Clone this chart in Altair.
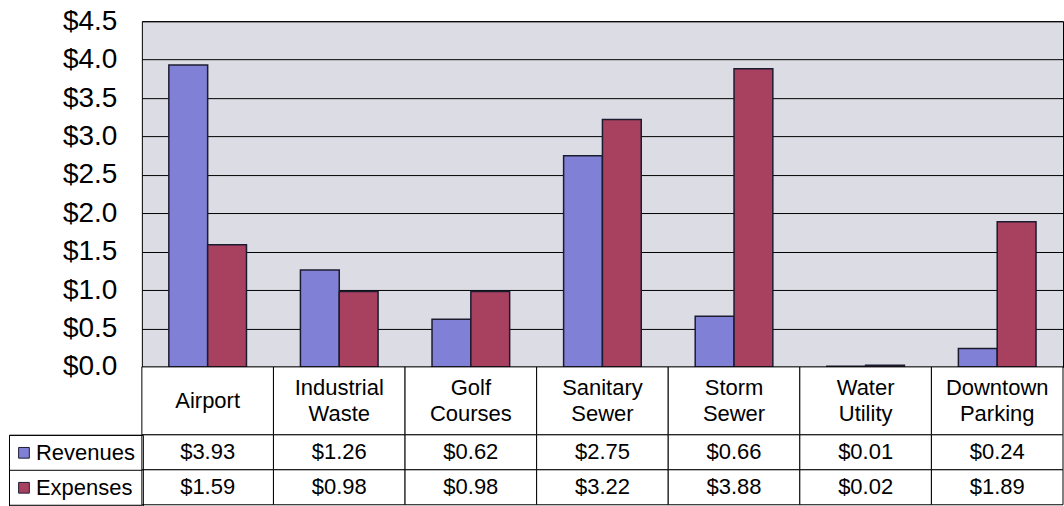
import altair as alt
import pandas as pd

categories = ["Airport", "Industrial Waste", "Golf Courses", "Sanitary Sewer",
              "Storm Sewer", "Water Utility", "Downtown Parking"]
category_lines = [["Airport"], ["Industrial", "Waste"], ["Golf", "Courses"],
                  ["Sanitary", "Sewer"], ["Storm", "Sewer"], ["Water", "Utility"],
                  ["Downtown", "Parking"]]
series = ["Revenues", "Expenses"]
revenues = [3.93, 1.26, 0.62, 2.75, 0.66, 0.01, 0.24]
expenses = [1.59, 0.98, 0.98, 3.22, 3.88, 0.02, 1.89]
y_ticks = [0.0, 0.5, 1.0, 1.5, 2.0, 2.5, 3.0, 3.5, 4.0, 4.5]
colors = ["#8080d6", "#a8405f"]

FONT = "Liberation Sans"
W = 922

rows = []
for i, c in enumerate(categories):
    rows.append({"category": c, "series": "Revenues", "value": revenues[i]})
    rows.append({"category": c, "series": "Expenses", "value": expenses[i]})
df = pd.DataFrame(rows)
cat_df = pd.DataFrame({"category": categories,
                       "label": ["\n".join(l) for l in category_lines],
                       "nlines": [len(l) for l in category_lines]})

x_table = alt.X("category:N", sort=categories,
                scale=alt.Scale(paddingInner=0, paddingOuter=0), axis=None)

bars = alt.Chart(df).mark_bar(stroke="#1c1c30", strokeWidth=1.5).encode(
    x=alt.X("category:N", sort=categories,
            scale=alt.Scale(paddingInner=0.41, paddingOuter=0.205), axis=None),
    xOffset=alt.XOffset("series:N", sort=series,
                        scale=alt.Scale(domain=series, paddingInner=0, paddingOuter=0)),
    y=alt.Y("value:Q", scale=alt.Scale(domain=[0, 4.5], nice=False),
            axis=alt.Axis(values=y_ticks, format="$.1f", labelFontSize=28,
                          labelPadding=25, ticks=False, domain=False, grid=True,
                          gridColor="#000000", gridWidth=1, title=None,
                          labelColor="#000000", labelFont=FONT)),
    color=alt.Color("series:N", scale=alt.Scale(domain=series, range=colors), legend=None),
).properties(width=W, height=346,
             view=alt.ViewBackground(fill="#dcdce4", stroke="#000000", strokeWidth=1))

cat_rect = alt.Chart(cat_df).mark_rect(fill="white", stroke="#000000", strokeWidth=1).encode(
    x=x_table)
cat_text1 = alt.Chart(cat_df).transform_filter("datum.nlines == 1").mark_text(
    fontSize=22, font=FONT, lineBreak="\n", lineHeight=26, color="#000000").encode(
    x=x_table, text="label:N")
cat_text2 = alt.Chart(cat_df).transform_filter("datum.nlines == 2").mark_text(
    fontSize=22, font=FONT, lineBreak="\n", lineHeight=26, dy=-13, color="#000000").encode(
    x=x_table, text="label:N")
cat_row = alt.layer(cat_rect, cat_text1, cat_text2).properties(
    width=W, height=68, view=alt.ViewBackground(stroke="transparent"))

y_axis = alt.Axis(labels=False, domain=False, ticks=True, tickBand="extent",
                  tickSize=133, tickColor="#000000", tickWidth=1, title=None, grid=False)
y_table = alt.Y("series:N", sort=series,
                scale=alt.Scale(domain=series, paddingInner=0, paddingOuter=0), axis=y_axis)

val_rect = alt.Chart(df).mark_rect(fill="white", stroke="#000000", strokeWidth=1).encode(
    x=x_table, y=y_table)
val_text = alt.Chart(df).mark_text(fontSize=22, font=FONT, color="#000000").encode(
    x=x_table, y=y_table, text=alt.Text("value:Q", format="$.2f"))
legend_mark = alt.Chart(df).mark_text(fontSize=1, font=FONT).encode(
    x=x_table, y=y_table, text=alt.value(""),
    color=alt.Color("series:N", scale=alt.Scale(domain=series, range=colors),
                    legend=alt.Legend(orient="none", legendX=-133, legendY=0, title=None,
                                      direction="vertical", symbolType="square",
                                      symbolSize=115, symbolStrokeColor="#1c1c30",
                                      symbolStrokeWidth=1, symbolOpacity=1,
                                      symbolOffset=-3,
                                      labelFontSize=22, labelFont=FONT,
                                      labelColor="#000000", rowPadding=13, padding=7,
                                      strokeColor="#000000", labelOffset=1)))
val_table = alt.layer(val_rect, val_text, legend_mark).properties(
    width=W, height=70, view=alt.ViewBackground(stroke="transparent"))

chart = alt.vconcat(bars, cat_row, val_table, spacing=0, bounds="flush").resolve_scale(
    x="independent", y="independent", color="independent"
).properties(
    padding={"left": 8, "top": 6, "right": 0, "bottom": 0}
).configure(font=FONT, background="white")

chart.save("out.html", embed_options={"renderer": "svg", "actions": False})
